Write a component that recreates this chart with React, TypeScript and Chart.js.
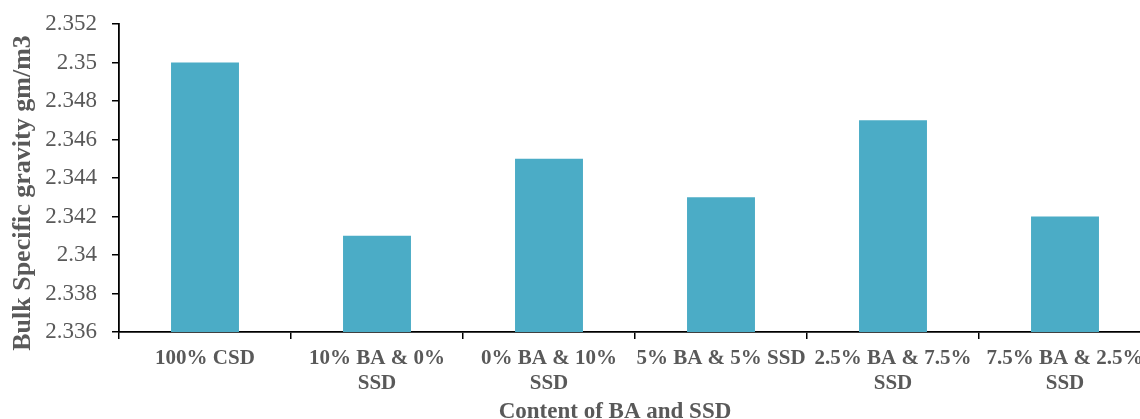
import React, { useEffect, useRef } from "react";
import { Chart, registerables } from "chart.js";

Chart.register(...registerables);

// Mix designs (multi-line category labels)
const categories: string[][] = [
  ["100% CSD"],
  ["10% BA & 0%", "SSD"],
  ["0% BA & 10%", "SSD"],
  ["5% BA & 5% SSD"],
  ["2.5% BA & 7.5%", "SSD"],
  ["7.5% BA & 2.5%", "SSD"],
];

// Bulk specific gravity for each mix
const bulkSpecificGravity: number[] = [2.35, 2.341, 2.345, 2.343, 2.347, 2.342];

const yMin = 2.336;
const yMax = 2.352;
const yStep = 0.002;

const xTitle = "Content of BA and SSD";
const yTitle = "Bulk Specific gravity gm/m3";

const SERIF = "'Liberation Serif', 'Times New Roman', serif";
const TEXT_GRAY = "#595959";
const BAR_COLOR = "#4bacc6";

const CANVAS_W = 1160;
const CANVAS_H = 419;

// Draws the two axis titles in their own positions around the plot
const axisTitlesPlugin = {
  id: "axisTitles",
  afterDraw(chart: Chart) {
    const { ctx, chartArea } = chart;
    ctx.save();
    ctx.fillStyle = TEXT_GRAY;
    ctx.textAlign = "center";
    ctx.textBaseline = "middle";

    ctx.font = `bold 23px ${SERIF}`;
    const cx = (chartArea.left + chartArea.right) / 2 - 20;
    ctx.fillText(xTitle, cx, chartArea.bottom + 80);

    ctx.font = `bold 26px ${SERIF}`;
    ctx.translate(23, (chartArea.top + chartArea.bottom) / 2 + 15);
    ctx.rotate(-Math.PI / 2);
    ctx.fillText(yTitle, 0, 0);
    ctx.restore();
  },
};

function BarChart() {
  const canvasRef = useRef<HTMLCanvasElement | null>(null);

  useEffect(() => {
    const canvas = canvasRef.current;
    if (!canvas) return;

    const chart = new Chart(canvas, {
      type: "bar",
      data: {
        labels: categories,
        datasets: [
          {
            data: bulkSpecificGravity,
            backgroundColor: BAR_COLOR,
            borderWidth: 0,
            categoryPercentage: 1,
            barPercentage: 0.395,
          },
        ],
      },
      options: {
        responsive: false,
        animation: false,
        devicePixelRatio: 1,
        layout: { padding: { top: 24, right: 9, bottom: 0, left: 0 } },
        plugins: {
          legend: { display: false },
          tooltip: { enabled: false },
          title: { display: false },
        },
        scales: {
          x: {
            offset: true,
            grid: {
              offset: true,
              drawOnChartArea: false,
              drawTicks: true,
              tickLength: 7,
              color: "#000",
              lineWidth: 1.5,
            },
            border: { display: true, color: "#000", width: 1.8 },
            ticks: {
              color: TEXT_GRAY,
              font: { family: SERIF, size: 21, weight: "bold", lineHeight: 1.2 },
              padding: 7,
              maxRotation: 0,
              minRotation: 0,
              autoSkip: false,
            },
            afterFit(scale: any) {
              scale.height = CANVAS_H - 332;
            },
          },
          y: {
            min: yMin,
            max: yMax,
            grid: {
              drawOnChartArea: false,
              drawTicks: true,
              tickLength: 7,
              color: "#000",
              lineWidth: 1.5,
            },
            border: { display: true, color: "#000", width: 1.8 },
            ticks: {
              stepSize: yStep,
              color: TEXT_GRAY,
              font: { family: SERIF, size: 23 },
              padding: 15,
              callback: (v: any) => String(parseFloat(Number(v).toFixed(3))),
            },
            afterFit(scale: any) {
              scale.width = 119;
              // the top label may overhang into the layout padding
              scale.paddingTop = 0;
              scale.paddingBottom = 0;
            },
          },
        },
      },
      plugins: [axisTitlesPlugin],
    });

    return () => chart.destroy();
  }, []);

  return (
    <canvas
      ref={canvasRef}
      width={CANVAS_W}
      height={CANVAS_H}
      style={{ display: "block", width: CANVAS_W, height: CANVAS_H }}
    />
  );
}

export default function App() {
  return (
    <div
      style={{
        position: "fixed",
        left: 0,
        top: 0,
        width: 1140,
        height: 419,
        overflow: "hidden",
        background: "#fff",
      }}
    >
      <BarChart />
    </div>
  );
}
